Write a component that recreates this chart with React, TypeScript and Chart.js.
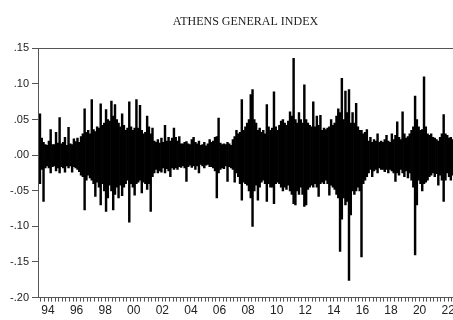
import React, { useEffect, useRef } from 'react';
import { Chart, registerables } from 'chart.js';

Chart.register(...registerables);

const chartTitle = 'ATHENS GENERAL INDEX';

// Daily returns, summarised as the high / low reached in each 1/8-year bin (percent)
const firstBinYear = 1993.875;
const binsPerYear = 8;

const highs: number[] = [
  5.8, 2.4, 1.8, 1.5, 1.4, 2.0, 3.6, 1.5,
  1.5, 3.2, 1.7, 5.3, 1.6, 1.8, 2.5, 1.4,
  3.9, 1.6, 1.5, 2.3, 1.9, 2.4, 1.8, 2.6,
  3.0, 6.5, 3.2, 3.5, 3.0, 7.8, 3.6, 3.3,
  4.0, 3.8, 7.2, 4.2, 4.5, 6.4, 5.0, 4.8,
  7.6, 5.5, 7.1, 5.0, 4.5, 4.0, 5.8, 4.2,
  3.5, 3.8, 7.5, 4.0, 3.5, 3.8, 7.8, 3.8,
  7.0, 3.5, 3.0, 3.2, 5.5, 4.0, 3.0, 3.8,
  2.0, 1.8, 2.2, 1.7, 2.4, 1.8, 4.2, 2.0,
  2.5, 2.0, 2.4, 3.8, 2.5, 2.0, 2.6, 1.6,
  1.6, 1.8, 1.9, 1.6, 1.5, 2.2, 2.5, 1.8,
  1.6, 2.0, 1.4, 1.5, 1.8, 1.3, 1.6, 2.2,
  1.8, 2.0, 2.5, 2.6, 5.2, 1.7, 1.5, 1.6,
  1.5, 1.8, 1.6, 1.4, 2.2, 2.6, 3.5, 3.0,
  3.2, 7.8, 3.5, 4.0, 4.5, 5.0, 8.5, 9.2,
  5.0, 4.5, 3.5, 3.8, 3.2, 3.5, 3.0, 7.1,
  4.0, 3.5, 3.8, 8.9, 4.0, 3.5, 4.2, 4.8,
  5.0, 4.5, 4.2, 4.8, 6.1, 5.5, 13.6, 5.0,
  4.5, 6.0, 5.0, 4.5, 9.9, 5.0, 4.5, 4.2,
  4.0, 7.5, 4.0, 5.5, 4.2, 5.6, 3.5, 3.8,
  3.6, 3.8, 4.0, 5.0, 4.2, 4.5, 5.5, 6.5,
  6.0, 10.8, 5.0, 9.0, 6.0, 9.2, 4.5, 6.0,
  4.5, 7.3, 4.0, 3.5, 3.5, 3.0, 3.2, 3.6,
  2.0, 2.5, 1.8, 2.2, 2.0, 3.0, 1.8, 2.0,
  1.8, 2.2, 2.8, 2.0, 1.8, 3.0, 2.2, 2.8,
  4.7, 2.5, 2.2, 6.1, 3.0, 2.4, 2.6, 3.0,
  3.5, 4.0, 8.3, 5.0, 4.0, 3.5, 3.6, 11.0,
  4.0, 3.0, 2.8, 3.0, 2.5, 2.4, 2.2, 2.0,
  2.5, 3.0, 5.7, 3.0, 2.8, 2.4, 2.5, 2.2,
];

const lows: number[] = [
  -4.0, -2.0, -6.5, -1.8, -1.5, -1.8, -2.5, -1.6,
  -1.5, -2.2, -1.8, -2.5, -1.6, -1.8, -2.4, -1.5,
  -1.8, -1.5, -2.4, -1.6, -1.8, -2.0, -2.3, -2.8,
  -3.0, -7.7, -3.5, -2.8, -3.2, -3.5, -4.0, -5.8,
  -3.8, -4.5, -7.0, -4.0, -5.0, -7.9, -6.0, -4.2,
  -5.0, -7.7, -5.5, -4.5, -6.0, -4.2, -5.7, -4.5,
  -4.0, -3.5, -9.4, -4.0, -4.5, -5.6, -4.0, -3.8,
  -3.5, -5.3, -3.8, -4.0, -4.8, -4.0, -7.9, -3.0,
  -2.5, -2.0, -2.5, -2.2, -2.4, -1.8, -2.5, -1.9,
  -2.2, -3.0, -1.8, -2.0, -1.8, -2.0, -1.6, -1.7,
  -1.5, -1.8, -3.7, -1.6, -1.4, -1.7, -1.5, -2.0,
  -1.5, -2.5, -1.3, -1.5, -1.8, -1.4, -1.3, -1.6,
  -1.6, -1.8, -2.2, -6.0, -2.5, -2.0, -1.8, -1.9,
  -1.5, -3.7, -1.6, -1.8, -2.0, -3.8, -2.5, -3.0,
  -4.0, -6.3, -3.8, -4.0, -4.2, -5.0, -6.0, -10.0,
  -5.0, -4.2, -6.3, -4.5, -3.8, -3.5, -4.0, -6.5,
  -4.0, -4.5, -4.5, -6.8, -4.0, -3.8, -4.0, -4.5,
  -5.0, -4.5, -4.8, -4.2, -5.0, -5.5, -6.8, -7.0,
  -5.0, -5.5, -4.5, -5.5, -7.2, -7.0, -4.8, -4.5,
  -4.2, -4.5, -4.0, -4.5, -5.8, -4.0, -3.8, -4.0,
  -3.5, -4.0, -5.6, -4.2, -4.5, -4.8, -5.5, -6.0,
  -13.5, -9.0, -6.0, -7.0, -6.5, -17.6, -8.4, -5.0,
  -5.5, -5.0, -4.5, -5.0, -14.3, -4.0, -3.5, -3.0,
  -2.5, -2.0, -3.0, -2.2, -2.0, -2.5, -1.8, -2.0,
  -2.0, -2.3, -2.0, -2.5, -2.0, -2.2, -2.5, -3.7,
  -2.5, -2.8, -2.0, -2.5, -3.0, -2.2, -3.2, -2.5,
  -3.5, -4.5, -14.0, -7.0, -3.5, -4.0, -5.0, -4.0,
  -3.8, -3.5, -3.0, -2.8, -2.5, -3.0, -2.6, -4.2,
  -2.8, -3.5, -6.5, -3.5, -2.5, -3.0, -3.5, -2.8,
];

const xLabels: string[] = ['94', '96', '98', '00', '02', '04', '06', '08', '10', '12', '14', '16', '18', '20', '22'];
const xLabelFirstYear = 1994;
const xMin = 1993.8;
const xMax = 2022.84;

const yTickValues: number[] = [-0.2, -0.15, -0.1, -0.05, 0, 0.05, 0.1, 0.15];
const yTickLabels: string[] = ['-.20', '-.15', '-.10', '-.05', '.00', '.05', '.10', '.15'];

const framePlugin = {
  id: 'frame',
  afterDraw(chart: any) {
    const { ctx, chartArea } = chart;
    ctx.save();
    ctx.strokeStyle = '#555';
    ctx.lineWidth = 1;
    ctx.strokeRect(Math.round(chartArea.left) + 0.5, Math.round(chartArea.top) + 0.5,
      Math.round(chartArea.right - chartArea.left), Math.round(chartArea.bottom - chartArea.top));
    ctx.restore();
  },
};

export default function App() {
  const canvasRef = useRef<HTMLCanvasElement | null>(null);

  useEffect(() => {
    if (!canvasRef.current) return;
    const bins = highs.map((h, k) => ({
      x: firstBinYear + (k + 0.5) / binsPerYear,
      y: [lows[k] / 100, h / 100],
    }));

    const xTickValues: number[] = [];
    for (let i = 0; i <= 115; i++) xTickValues.push(1994 + i / 4);
    const labelAt = new Map<string, string>();
    xLabels.forEach((l, i) => labelAt.set((xLabelFirstYear + 0.5 + 2 * i).toFixed(2), l));

    const chart = new Chart(canvasRef.current, {
      type: 'bar',
      data: {
        datasets: [
          {
            data: bins as any,
            backgroundColor: '#000',
            borderWidth: 0,
            barPercentage: 1,
            categoryPercentage: 1,
            grouped: false,
          },
        ],
      },
      options: {
        animation: false,
        responsive: false,
        maintainAspectRatio: false,
        events: [],
        layout: { padding: { left: 0, right: 7, top: 0, bottom: 0 } },
        plugins: {
          legend: { display: false },
          tooltip: { enabled: false },
          title: {
            display: true,
            text: chartTitle,
            fullSize: false,
            color: '#222',
            font: { family: '"Liberation Serif", "Times New Roman", serif', size: 12, weight: 'normal' },
            padding: { top: 15, bottom: 19 },
          },
        },
        scales: {
          x: {
            type: 'linear',
            min: xMin,
            max: xMax,
            offset: false,
            afterBuildTicks: (axis: any) => {
              axis.ticks = xTickValues.map((v) => ({ value: v }));
            },
            grid: { drawOnChartArea: false, drawTicks: true, tickLength: 4, color: '#555', offset: false },
            border: { display: true, color: '#555' },
            ticks: {
              autoSkip: false,
              maxRotation: 0,
              minRotation: 0,
              padding: 2,
              color: '#222',
              font: { family: '"Liberation Sans", Arial, sans-serif', size: 12 },
              callback: (value: any) => labelAt.get(Number(value).toFixed(2)) ?? '',
            },
          },
          y: {
            type: 'linear',
            min: -0.2,
            max: 0.15,
            afterBuildTicks: (axis: any) => {
              axis.ticks = yTickValues.map((v) => ({ value: v }));
            },
            afterFit: (axis: any) => {
              axis.width = 38;
            },
            grid: { drawOnChartArea: false, drawTicks: true, tickLength: 6, color: '#555' },
            border: { display: true, color: '#555' },
            ticks: {
              padding: 3,
              color: '#222',
              font: { family: '"Liberation Sans", Arial, sans-serif', size: 11 },
              callback: (value: any) => {
                const i = yTickValues.findIndex((v) => Math.abs(v - Number(value)) < 1e-6);
                return i >= 0 ? yTickLabels[i] : '';
              },
            },
          },
        },
      },
      plugins: [framePlugin],
    });
    return () => chart.destroy();
  }, []);

  return (
    <div style={{ position: 'absolute', left: 0, top: 0, width: 453, height: 320, overflow: 'hidden', background: '#fff' }}>
      <canvas ref={canvasRef} width={460} height={320} style={{ width: 460, height: 320, display: 'block' }} />
    </div>
  );
}
